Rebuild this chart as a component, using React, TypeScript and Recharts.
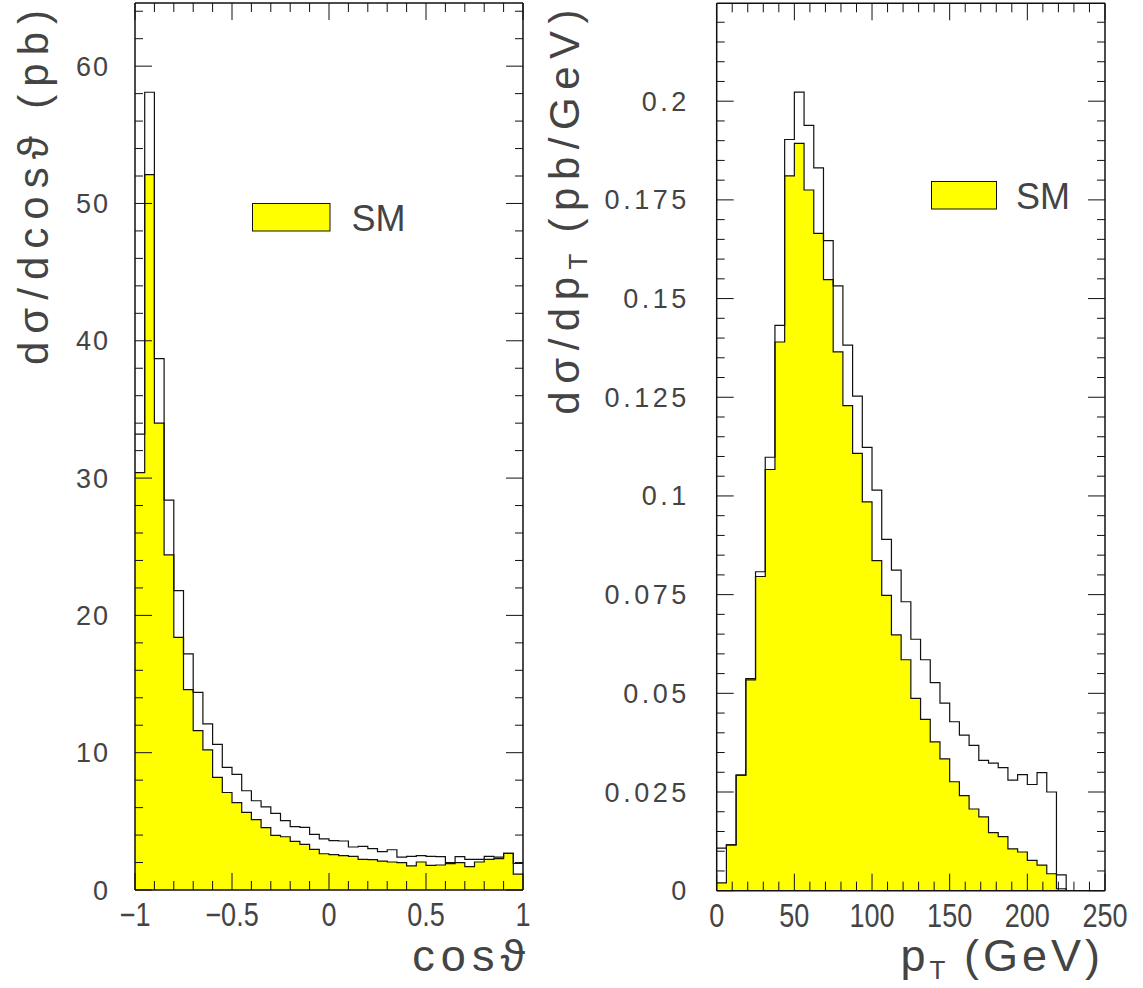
import React from 'react';
import { ComposedChart, Area, Line, XAxis, YAxis, ReferenceLine, Label, Legend } from 'recharts';

// ---------------- data ----------------
// cos(theta) distribution: 40 bins of width 0.05 from -1 to 1
const cosBinLow = -1;
const cosBinWidth = 0.05;
const cosSM = [30.4, 52.1, 34.0, 24.4, 18.4, 14.6, 11.6, 10.2, 8.2, 7.1, 6.36, 5.65, 5.12, 4.54, 3.98, 3.88, 3.54, 3.32, 2.96, 2.64, 2.57, 2.5, 2.45, 2.23, 2.21, 2.11, 2.04, 1.99, 1.75, 2.04, 1.8, 1.82, 1.92, 1.99, 1.7, 2.04, 2.23, 2.28, 2.67, 1.16];
const cosTotal = [33.2, 58.1, 38.7, 28.4, 21.8, 17.2, 14.4, 12.1, 10.6, 8.93, 8.42, 7.23, 6.5, 6.06, 5.58, 5.05, 4.61, 4.56, 4.05, 3.73, 3.59, 3.57, 3.13, 3.18, 3.01, 2.79, 2.93, 2.4, 2.45, 2.5, 2.45, 2.43, 1.99, 2.43, 2.23, 2.23, 2.45, 2.4, 2.67, 1.94];

// pT distribution: 40 bins of width 6.25 GeV from 0 to 250
const ptBinLow = 0;
const ptBinWidth = 6.25;
const ptSM = [0.002, 0.0116, 0.0293, 0.0534, 0.0796, 0.1067, 0.139, 0.1811, 0.1893, 0.1775, 0.1665, 0.1548, 0.1365, 0.1229, 0.1108, 0.0985, 0.0836, 0.0748, 0.0648, 0.0585, 0.0487, 0.0434, 0.0377, 0.0334, 0.0276, 0.0241, 0.0207, 0.0187, 0.0147, 0.0137, 0.0106, 0.0098, 0.0077, 0.0065, 0.0043, 0.0005, 0, 0, 0, 0];
const ptTotal = [0.0108, 0.0116, 0.0293, 0.0537, 0.0808, 0.1098, 0.1432, 0.1903, 0.2023, 0.1939, 0.1831, 0.1647, 0.1532, 0.1382, 0.1253, 0.1123, 0.1015, 0.089, 0.0812, 0.0732, 0.0637, 0.0585, 0.0527, 0.0475, 0.0428, 0.0394, 0.0368, 0.033, 0.0323, 0.0312, 0.028, 0.0294, 0.0269, 0.0299, 0.025, 0.004, 0, 0, 0, 0];

// tick labels
const cosXLabels = [-1, -0.5, 0, 0.5, 1];
const cosYLabels = [0, 10, 20, 30, 40, 50, 60];
const ptXLabels = [0, 50, 100, 150, 200, 250];
const ptYLabels = [0, 0.025, 0.05, 0.075, 0.1, 0.125, 0.15, 0.175, 0.2];

const cosXDomain: [number, number] = [-1, 1];
const cosYDomain: [number, number] = [0, 64.6];
const ptXDomain: [number, number] = [0, 250];
const ptYDomain: [number, number] = [0, 0.2248];

// ---------------- helpers ----------------
const tickGrid = (from: number, to: number, step: number) => {
  const n = Math.round((to - from) / step);
  return Array.from({ length: n + 1 }, (_, i) => Math.round((from + i * step) * 1e6) / 1e6);
};

function histRows(low: number, width: number, sm: number[], total: number[]) {
  const rows = sm.map((v, i) => ({ x: Math.round((low + i * width) * 1e6) / 1e6, sm: v, total: total[i] }));
  rows.push({
    x: Math.round((low + sm.length * width) * 1e6) / 1e6,
    sm: sm[sm.length - 1],
    total: total[total.length - 1],
  });
  return rows;
}

const FONT = '"Liberation Sans", Arial, sans-serif';
const TXT = '#444';
const INK = '#111';
const H = 988;
const AX = 2; // axis box thickness reserved by recharts

const fmt = (v: number) => (v < 0 ? '\u2212' + String(Math.abs(v)) : String(v));
const has = (list: number[], v: number) => list.some((m) => Math.abs(m - v) < 1e-9);

type PanelProps = {
  left: number;
  width: number;
  plotLeft: number;
  plotRight: number;
  plotTop: number;
  plotBottom: number;
  data: any[];
  xDomain: [number, number];
  yDomain: [number, number];
  xTicks: number[];
  yTicks: number[];
  xLabels: number[];
  yLabels: number[];
  yLabelGap: number;
  yLabelSpacing: number;
  yTitle: React.ReactNode;
  yTitleX: number;
  yTitleSpacing: number;
  xTitle: React.ReactNode;
  xTitleRight: number;
  xTitleSpacing: number;
  legendBox: { x: number; y: number; w: number; h: number; textX: number };
};

function HistPanel(p: PanelProps) {
  const plotW = p.plotRight - p.plotLeft;
  const plotH = p.plotBottom - p.plotTop;

  const yTick = (props: any) => {
    const { y, payload } = props;
    const x = p.plotLeft;
    const v = payload.value;
    const major = has(p.yLabels, v);
    const len = major ? 17 : 8;
    return (
      <g>
        <line x1={x} x2={x + len} y1={y} y2={y} stroke={INK} strokeWidth={1} />
        <line x1={x + plotW - len} x2={x + plotW} y1={y} y2={y} stroke={INK} strokeWidth={1} />
        {major && (
          <text x={x - p.yLabelGap} y={y + 9.5} textAnchor="end" fontFamily={FONT} fontSize={27} letterSpacing={p.yLabelSpacing} fill={TXT}>
            {fmt(v)}
          </text>
        )}
      </g>
    );
  };

  const xTick = (props: any) => {
    const { x, payload } = props;
    const y = p.plotBottom;
    const v = payload.value;
    const major = has(p.xLabels, v);
    const len = major ? 17 : 9;
    return (
      <g>
        <line x1={x} x2={x} y1={y} y2={y - len} stroke={INK} strokeWidth={1} />
        <line x1={x} x2={x} y1={y - plotH} y2={y - plotH + len} stroke={INK} strokeWidth={1} />
        {major && (
          <text
            x={0}
            y={0}
            transform={`translate(${x}, ${y + 36}) scale(0.82, 1)`}
            textAnchor="middle"
            fontFamily={FONT}
            fontSize={33}
            fill={TXT}
          >
            {fmt(v)}
          </text>
        )}
      </g>
    );
  };

  const lb = p.legendBox;
  const legendContent = (lp: any) => {
    const item = (lp.payload || []).find((e: any) => e.value === 'SM');
    const name = item ? item.value : 'SM';
    return (
      <svg width={200} height={40} style={{ overflow: 'visible' }}>
        <rect x={0.5} y={0.5} width={lb.w} height={lb.h} fill="#ffff00" stroke={INK} strokeWidth={1} />
        <text x={lb.textX - lb.x} y={lb.h + 0.5} fontFamily={FONT} fontSize={36} fill={TXT}>
          {name}
        </text>
      </svg>
    );
  };

  return (
    <div style={{ position: 'absolute', left: p.left, top: 0, width: p.width, height: H }}>
      <ComposedChart
        width={p.width}
        height={H}
        data={p.data}
        margin={{ top: p.plotTop, left: p.plotLeft - AX, right: p.width - p.plotRight, bottom: H - p.plotBottom - AX }}
      >
        <XAxis
          type="number"
          dataKey="x"
          domain={p.xDomain}
          ticks={p.xTicks}
          interval={0}
          height={AX}
          tickSize={0}
          tickMargin={0}
          tickLine={false}
          axisLine={{ stroke: INK, strokeWidth: 1.5 }}
          tick={xTick}
          allowDataOverflow
        >
          <Label
            content={() => (
              <text x={p.xTitleRight} y={971} textAnchor="end" fontFamily={FONT} fontSize={45} letterSpacing={p.xTitleSpacing} fill={TXT}>
                {p.xTitle}
              </text>
            )}
          />
        </XAxis>
        <YAxis
          type="number"
          domain={p.yDomain}
          ticks={p.yTicks}
          interval={0}
          width={AX}
          tickSize={0}
          tickMargin={0}
          tickLine={false}
          axisLine={{ stroke: INK, strokeWidth: 1.5 }}
          tick={yTick}
          allowDataOverflow
        >
          <Label
            content={() => (
              <text
                x={p.yTitleX}
                y={2}
                transform={`rotate(-90, ${p.yTitleX}, 2)`}
                textAnchor="end"
                fontFamily={FONT}
                fontSize={42}
                letterSpacing={p.yTitleSpacing}
                fill={TXT}
              >
                {p.yTitle}
              </text>
            )}
          />
        </YAxis>
        <Line
          type="stepAfter"
          dataKey="total"
          stroke={INK}
          strokeWidth={1.2}
          dot={false}
          activeDot={false}
          legendType="none"
          isAnimationActive={false}
        />
        <Area
          type="stepAfter"
          dataKey="sm"
          name="SM"
          stroke={INK}
          strokeWidth={1.2}
          fill="#ffff00"
          fillOpacity={1}
          dot={false}
          activeDot={false}
          isAnimationActive={false}
        />
        <ReferenceLine x={p.xDomain[1]} stroke={INK} strokeWidth={1.5} />
        <ReferenceLine y={p.yDomain[1]} stroke={INK} strokeWidth={1.5} />
        <Legend
          layout="horizontal"
          align="center"
          verticalAlign="middle"
          width={200}
          height={40}
          content={legendContent}
          wrapperStyle={{ position: 'absolute', left: lb.x - p.left, top: lb.y, width: 200, height: 40 }}
        />
      </ComposedChart>
    </div>
  );
}

export default function App() {
  const cosData = histRows(cosBinLow, cosBinWidth, cosSM, cosTotal);
  const ptData = histRows(ptBinLow, ptBinWidth, ptSM, ptTotal);
  const rightLeft = 540;
  return (
    <div style={{ position: 'absolute', left: 0, top: 0, width: 1143, height: H, background: '#fff' }}>
      <HistPanel
        left={0}
        width={540}
        plotLeft={135}
        plotRight={523}
        plotTop={3}
        plotBottom={890}
        data={cosData}
        xDomain={cosXDomain}
        yDomain={cosYDomain}
        xTicks={tickGrid(-1, 1, 0.1)}
        yTicks={tickGrid(0, 64, 2)}
        xLabels={cosXLabels}
        yLabels={cosYLabels}
        yLabelGap={25}
        yLabelSpacing={2}
        yTitle={'d\u03C3/dcos\u03D1 (pb)'}
        yTitleX={48}
        yTitleSpacing={8}
        xTitle={'cos\u03D1'}
        xTitleRight={531}
        xTitleSpacing={6}
        legendBox={{ x: 251.5, y: 202.5, w: 77.5, h: 27.5, textX: 351 }}
      />
      <HistPanel
        left={rightLeft}
        width={603}
        plotLeft={716.7 - rightLeft}
        plotRight={1105 - rightLeft}
        plotTop={3.3}
        plotBottom={890.7}
        data={ptData}
        xDomain={ptXDomain}
        yDomain={ptYDomain}
        xTicks={tickGrid(0, 250, 10)}
        yTicks={tickGrid(0, 0.22, 0.005)}
        xLabels={ptXLabels}
        yLabels={ptYLabels}
        yLabelGap={27}
        yLabelSpacing={3.5}
        yTitle={
          <>
            {'d\u03C3/dp'}
            <tspan dy={8} fontSize={26} letterSpacing={2}>T</tspan>
            <tspan dy={-8}>{' (pb/GeV)'}</tspan>
          </>
        }
        yTitleX={579 - rightLeft}
        yTitleSpacing={7.5}
        xTitle={
          <>
            {'p'}
            <tspan dy={8} fontSize={26} letterSpacing={2}>T</tspan>
            <tspan dy={-8}>{' (GeV)'}</tspan>
          </>
        }
        xTitleRight={1104 - rightLeft}
        xTitleSpacing={4}
        legendBox={{ x: 931, y: 180.5, w: 65, h: 27.5, textX: 1016 }}
      />
    </div>
  );
}
